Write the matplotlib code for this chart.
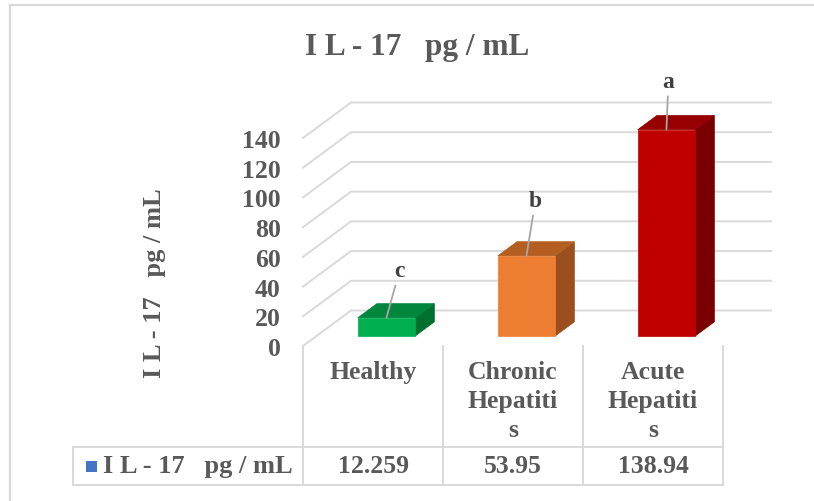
import matplotlib.pyplot as plt
from matplotlib.patches import Polygon, Rectangle
from matplotlib.lines import Line2D

# data
categories = ['Healthy', 'Chronic Hepatitis', 'Acute Hepatitis']
cat_labels = ['Healthy', 'Chronic\nHepatiti\ns', 'Acute\nHepatiti\ns']
values = [12.259, 53.95, 138.94]
letters = ['c', 'b', 'a']
series_name = 'I L - 17   pg / mL'
yticks = [0, 20, 40, 60, 80, 100, 120, 140]

# face colours: front, top, side
faces = [('#00B050', '#00863D', '#00702F'),
         ('#ED7D31', '#B55E22', '#9A4F1D'),
         ('#C00000', '#960000', '#7A0000')]
label_offsets = [(13, 47), (9, 55), (2, 48)]  # pixels, manual placement like excel

plt.rcParams['font.family'] = ['Liberation Serif', 'DejaVu Serif']
plt.rcParams['font.weight'] = 'bold'
txt = '#595959'
grid = '#D9D9D9'

W, H = 814, 502
fig = plt.figure(figsize=(W / 100, H / 100), dpi=100)

def fx(px):
    return px / W

def fy(py):
    return 1 - py / H

# front plane of the 3d box (pixels)
L, R, B, T = 303, 723, 347, 139
ax = fig.add_axes([fx(L), fy(B), (R - L) / W, (B - T) / H])
ax.set_xlim(-0.5, 2.5)
ax.set_ylim(0, 140)
ax.patch.set_visible(False)
for s in ax.spines.values():
    s.set_visible(False)
ax.set_xticks([])
ax.set_yticks(yticks)
ax.set_yticklabels([str(t) for t in yticks])
ax.tick_params(axis='y', length=0, pad=16, labelsize=18.5, labelcolor=txt)

# depth direction in data units (48px right, 35.5px up for full depth)
DX = 48 / ((R - L) / 3)
DY = 35.5 / ((B - T) / 140)

def p(x, y, d):
    return (x + d * DX, y + d * DY)

for v in yticks:
    ax.plot([-0.5, -0.5 + DX, 2.5 + DX], [v, v + DY, v + DY], color=grid,
            lw=1.4, clip_on=False, zorder=1)

bw, f0, f1 = 0.41, 0.28, 0.68
for i, v in enumerate(values):
    fc, tc, sc = faces[i]
    x0, x1 = i - bw / 2, i + bw / 2
    front = [p(x0, 0, f0), p(x1, 0, f0), p(x1, v, f0), p(x0, v, f0)]
    top = [p(x0, v, f0), p(x1, v, f0), p(x1, v, f1), p(x0, v, f1)]
    side = [p(x1, 0, f0), p(x1, 0, f1), p(x1, v, f1), p(x1, v, f0)]
    for poly, c in [(side, sc), (top, tc), (front, fc)]:
        ax.add_patch(Polygon(poly, closed=True, fc=c, ec=c, lw=0.5,
                             clip_on=False, zorder=3))
    ax.annotate(letters[i], xy=p(i, v, f0), xytext=label_offsets[i],
                textcoords='offset pixels', ha='center', va='center',
                fontsize=17, color='#404040', annotation_clip=False, zorder=5,
                arrowprops=dict(arrowstyle='-', color='#A6A6A6', lw=1.3,
                                shrinkA=1, shrinkB=0))

fig.text(fx(155), fy(283), series_name, rotation=90, ha='center', va='center',
         fontsize=19, color=txt)
fig.text(fx(417), fy(47), series_name, ha='center', va='center',
         fontsize=22.5, color=txt)

# data table under the plot
tl, tb = 72.7, 485.7
tab = fig.add_axes([fx(tl), fy(tb), (R - tl) / W, (tb - B) / H])
xl = -0.5 - (L - tl) / ((R - L) / 3)
tab.set_xlim(xl, 2.5)
tab.set_ylim(0, 1)
tab.axis('off')
row_y = (tb - 447.7) / (tb - B)
kw = dict(color=grid, lw=1.4, clip_on=False)
for x in [-0.5, 0.5, 1.5, 2.5]:
    tab.plot([x, x], [0, 1], **kw)
tab.plot([xl, xl], [0, row_y], **kw)
tab.plot([xl, 2.5], [row_y, row_y], **kw)
tab.plot([xl, 2.5], [0, 0], **kw)

head_top = (tb - 361) / (tb - B)
val_y = (tb - 467) / (tb - B)
for i, lab in enumerate(cat_labels):
    tab.text(i, head_top, lab, ha='center', va='top', fontsize=18.5,
             color=txt, linespacing=1.33)
    tab.text(i, val_y, str(values[i]), ha='center', va='center',
             fontsize=18.5, color=txt)

pxu = (R - L) / 3
tab.add_patch(Rectangle((-0.5 - (L - 86) / pxu, (tb - 473) / (tb - B)),
                        11 / pxu, 11 / (tb - B), fc='#4472C4', ec='none',
                        clip_on=False))
tab.text(-0.5 - (L - 103) / pxu, val_y, series_name, ha='left',
         va='center', fontsize=19, color=txt)

# chart border (only left/top visible in the crop)
fig.add_artist(Line2D([fx(10), fx(10)], [0, fy(6)], color=grid, lw=1.6))
fig.add_artist(Line2D([fx(10), 1], [fy(6), fy(6)], color=grid, lw=1.6))

fig.savefig('out.png', dpi=100)
